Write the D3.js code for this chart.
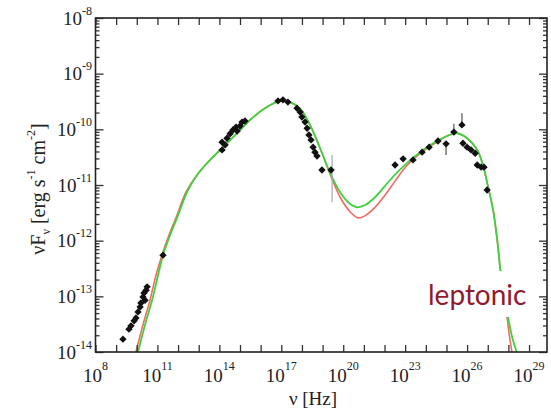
<!DOCTYPE html>
<html>
<head>
<meta charset="utf-8">
<script src="https://cdn.jsdelivr.net/npm/d3@7"></script>
<style>
  body { margin: 0; background: #fff; }
  svg { display: block; }
</style>
</head>
<body>
<svg width="551" height="411"></svg>
<script>
// decades shown on the axes
const xTickExp = [8, 11, 14, 17, 20, 23, 26, 29];
const yTickExp = [-8, -9, -10, -11, -12, -13, -14];

// observed SED points, log10(nu) and log10(nuFnu)
const obsLogNu = [
  9.33, 9.62, 9.72, 9.87, 9.96, 10.06, 10.16, 10.2, 10.3, 10.4, 10.35, 10.45, 10.5,
  11.27,
  14.13, 14.13, 14.28, 14.37, 14.52, 14.66, 14.81, 15.0, 15.1, 15.24, 14.86,
  16.84, 17.08, 17.32, 17.76, 17.91, 18.0, 18.15, 18.25, 18.34, 18.44, 18.54, 18.63, 18.73, 18.97, 19.41,
  22.51, 22.9, 23.38, 23.82, 24.16, 24.59, 24.98, 25.36, 25.75, 25.8, 26.0, 26.19, 26.39, 26.49, 26.68, 26.82, 26.97
];
const obsLogF = [
  -13.77, -13.59, -13.53, -13.44, -13.39, -13.28, -13.19, -13.12, -13.01, -13.07, -12.94, -12.89, -12.83,
  -12.26,
  -10.37, -10.23, -10.28, -10.16, -10.08, -10.01, -9.96, -9.94, -9.87, -9.85, -10.03,
  -9.49, -9.47, -9.51, -9.62, -9.69, -9.78, -9.87, -9.98, -10.1, -10.19, -10.32, -10.41, -10.48, -10.73, -10.73,
  -10.64, -10.53, -10.55, -10.41, -10.32, -10.21, -10.26, -10.05, -9.92, -10.25, -10.32, -10.37, -10.43, -10.64, -10.68, -10.68, -11.09
];

// error bars: log nu, low, high
const errLogNu = [19.46, 24.98, 25.36, 25.75];
const errLo = [-11.31, -10.46, -10.05, -9.92];
const errHi = [-10.46, -10.23, -9.9, -9.71];

// model curves
const greenLogNu = [10.06, 10.4, 10.74, 11.03, 11.27, 11.61, 11.95, 12.43, 12.92, 13.55, 14.18, 14.86, 15.49, 16.21, 16.94, 17.42, 17.91, 18.39, 18.88, 19.36, 19.85, 20.33, 20.67, 21.06, 21.54, 22.27, 22.99, 23.72, 24.45, 25.03, 25.51, 26.0, 26.49, 26.78, 27.02, 27.26, 27.46, 27.6, 27.79, 27.99, 28.18, 28.42];
const greenLogF = [-14.0, -13.51, -13.07, -12.62, -12.26, -11.9, -11.59, -11.13, -10.82, -10.55, -10.32, -10.07, -9.83, -9.62, -9.49, -9.51, -9.63, -9.92, -10.34, -10.78, -11.13, -11.34, -11.4, -11.36, -11.22, -10.91, -10.64, -10.41, -10.23, -10.12, -10.07, -10.16, -10.37, -10.66, -11.04, -11.45, -11.99, -12.49, -12.98, -13.39, -13.73, -14.02];

const redLogNu = [9.96, 10.3, 10.64, 10.93, 11.22, 11.56, 11.9, 12.38, 12.92, 13.55, 14.18, 14.86, 15.49, 16.21, 16.94, 17.42, 17.91, 18.39, 18.88, 19.36, 19.85, 20.33, 20.72, 21.11, 21.54, 22.03, 22.51, 22.99, 23.48, 23.96, 24.45, 25.03, 25.51, 26.0, 26.49, 26.78, 27.02, 27.26, 27.46, 27.6, 27.75, 27.94, 28.04, 28.18];
const redLogF = [-14.0, -13.51, -13.07, -12.62, -12.26, -11.9, -11.59, -11.13, -10.82, -10.55, -10.32, -10.07, -9.83, -9.62, -9.49, -9.51, -9.63, -9.92, -10.34, -10.8, -11.22, -11.48, -11.59, -11.54, -11.4, -11.18, -10.93, -10.69, -10.51, -10.37, -10.25, -10.12, -10.07, -10.16, -10.37, -10.66, -11.04, -11.45, -11.99, -12.49, -12.98, -13.39, -13.69, -14.02];

const svg = d3.select("svg");
const m = { left: 95.5, right: 547, top: 18, bottom: 352 };
const serif = "'Liberation Serif', 'DejaVu Serif', serif";

const x = d3.scaleLog().domain([1e8, Math.pow(10, 29.87)]).range([m.left, m.right]);
const y = d3.scaleLog().domain([1e-14, 1e-8]).range([m.bottom, m.top]);

const zip = (a, b) => a.map((v, i) => [Math.pow(10, v), Math.pow(10, b[i])]);

svg.append("clipPath").attr("id", "clip")
  .append("rect").attr("x", m.left).attr("y", m.top)
  .attr("width", m.right - m.left).attr("height", m.bottom - m.top);

const line = d3.line()
  .x((d) => x(d[0]))
  .y((d) => y(d[1]))
  .curve(d3.curveCatmullRom);

const plot = svg.append("g").attr("clip-path", "url(#clip)");

plot.append("path")
  .datum(zip(redLogNu, redLogF))
  .attr("d", line)
  .attr("fill", "none")
  .attr("stroke", "#f26b63")
  .attr("stroke-width", 1.6);

plot.append("path")
  .datum(zip(greenLogNu, greenLogF))
  .attr("d", line)
  .attr("fill", "none")
  .attr("stroke", "#3fd23f")
  .attr("stroke-width", 1.8);

// error bars
plot.selectAll(".err")
  .data(errLogNu.map((v, i) => [Math.pow(10, v), Math.pow(10, errLo[i]), Math.pow(10, errHi[i])]))
  .enter()
  .append("line")
  .attr("class", "err")
  .attr("x1", (d) => x(d[0]))
  .attr("x2", (d) => x(d[0]))
  .attr("y1", (d) => y(d[1]))
  .attr("y2", (d) => y(d[2]))
  .attr("stroke", (d, i) => (i === 0 ? "#a8a8b4" : "#555"))
  .attr("stroke-width", 1.2);

// data points
plot.selectAll(".dot")
  .data(zip(obsLogNu, obsLogF))
  .enter()
  .append("path")
  .attr("class", "dot")
  .attr("d", d3.symbol().type(d3.symbolSquare).size(27))
  .attr("transform", (d) => `translate(${x(d[0])},${y(d[1])}) rotate(45)`)
  .attr("fill", "#111");

// label box hides the curves behind the text
svg.append("rect")
  .attr("x", 425).attr("y", 271).attr("width", 101).attr("height", 46)
  .attr("fill", "#fff");

svg.append("text")
  .attr("x", 428)
  .attr("y", 305)
  .attr("font-family", "Lato, 'Open Sans', sans-serif")
  .attr("font-size", 28)
  .attr("fill", "#921a2e")
  .text("leptonic");

// axes
const xMajor = d3.range(8, 30).map((e) => Math.pow(10, e));
const yMajor = d3.range(-14, -7).map((e) => Math.pow(10, e));
const yMinor = [];
d3.range(-14, -8).forEach((e) => {
  for (let k = 2; k < 10; k++) yMinor.push(k * Math.pow(10, e));
});

const axisStyle = (g) => {
  g.select(".domain").remove();
  g.selectAll(".tick line").attr("stroke", "#333").attr("stroke-width", 1.3);
};

svg.append("g").attr("transform", `translate(0,${m.bottom})`)
  .call(d3.axisBottom(x).tickValues(xMajor).tickSize(-7).tickFormat(""))
  .call(axisStyle);
svg.append("g").attr("transform", `translate(0,${m.top})`)
  .call(d3.axisTop(x).tickValues(xMajor).tickSize(-7).tickFormat(""))
  .call(axisStyle);
svg.append("g").attr("transform", `translate(${m.left},0)`)
  .call(d3.axisLeft(y).tickValues(yMajor).tickSize(-8).tickFormat(""))
  .call(axisStyle);
svg.append("g").attr("transform", `translate(${m.left},0)`)
  .call(d3.axisLeft(y).tickValues(yMinor).tickSize(-4).tickFormat(""))
  .call(axisStyle);
svg.append("g").attr("transform", `translate(${m.right},0)`)
  .call(d3.axisRight(y).tickValues(yMajor).tickSize(-8).tickFormat(""))
  .call(axisStyle);
svg.append("g").attr("transform", `translate(${m.right},0)`)
  .call(d3.axisRight(y).tickValues(yMinor).tickSize(-4).tickFormat(""))
  .call(axisStyle);

svg.append("rect")
  .attr("x", m.left).attr("y", m.top)
  .attr("width", m.right - m.left).attr("height", m.bottom - m.top)
  .attr("fill", "none")
  .attr("stroke", "#222")
  .attr("stroke-width", 1.6);

// tick labels with superscript exponents
const xLabels = svg.selectAll(".xlab")
  .data(xTickExp)
  .enter()
  .append("text")
  .attr("class", "xlab")
  .attr("x", (d) => x(Math.pow(10, d)))
  .attr("y", 382)
  .attr("text-anchor", "middle")
  .attr("font-family", serif)
  .attr("font-size", 19)
  .attr("fill", "#222");
xLabels.append("tspan").text("10");
xLabels.append("tspan").attr("dy", -12).attr("font-size", 12).text((d) => d);

const yLabels = svg.selectAll(".ylab")
  .data(yTickExp)
  .enter()
  .append("text")
  .attr("class", "ylab")
  .attr("x", 92)
  .attr("y", (d) => y(Math.pow(10, d)) + 6.5)
  .attr("text-anchor", "end")
  .attr("font-family", serif)
  .attr("font-size", 19)
  .attr("fill", "#222");
yLabels.append("tspan").text("10");
yLabels.append("tspan").attr("dy", -10).attr("font-size", 12).text((d) => "-" + Math.abs(d));

// axis titles
svg.append("text")
  .attr("x", 313)
  .attr("y", 405)
  .attr("text-anchor", "middle")
  .attr("font-family", serif)
  .attr("font-size", 19)
  .attr("fill", "#222")
  .text("ν [Hz]");

const yTitle = svg.append("text")
  .attr("transform", "translate(45,189) rotate(-90)")
  .attr("text-anchor", "middle")
  .attr("font-family", serif)
  .attr("font-size", 20)
  .attr("fill", "#222");
yTitle.append("tspan").text("νF");
yTitle.append("tspan").attr("dy", 5).attr("font-size", 12).text("ν");
yTitle.append("tspan").attr("dy", -5).text(" [erg s");
yTitle.append("tspan").attr("dy", -10).attr("font-size", 12).text("-1");
yTitle.append("tspan").attr("dy", 10).text(" cm");
yTitle.append("tspan").attr("dy", -10).attr("font-size", 12).text("-2");
yTitle.append("tspan").attr("dy", 10).text("]");
</script>
</body>
</html>
